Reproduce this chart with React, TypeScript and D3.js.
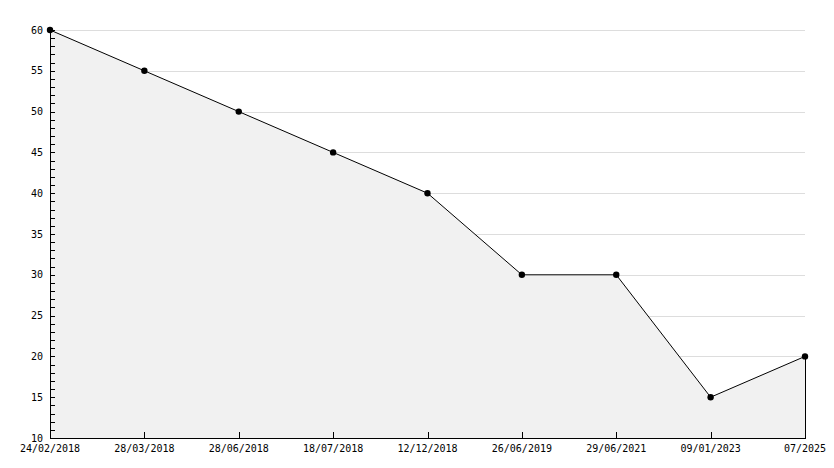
import React from "react";
import * as d3 from "d3";

const dates = ["24/02/2018","28/03/2018","28/06/2018","18/07/2018","12/12/2018","26/06/2019","29/06/2021","09/01/2023","07/2025"];
const values = [60, 55, 50, 45, 40, 30, 30, 15, 20];
const yMajorTicks = [10, 15, 20, 25, 30, 35, 40, 45, 50, 55, 60];

const W = 834, H = 468;
const L = 50, R = 805, T = 30, B = 438;

export default function App() {
  const x = d3.scalePoint<string>().domain(dates).range([L, R]);
  const y = d3.scaleLinear().domain([10, 60]).range([B, T]);
  const pts = dates.map((d, i) => [x(d) as number, y(values[i])] as [number, number]);
  const line = d3.line()(pts) as string;
  const area = d3.area<[number, number]>().x(p => p[0]).y0(B).y1(p => p[1])(pts) as string;
  const minor = d3.range(10, 61, 1);
  const font = "'DejaVu Sans Mono', monospace";
  return (
    <svg width={W} height={H} style={{ position: "absolute", left: 0, top: 0, background: "#fff" }} shapeRendering="crispEdges">
      {yMajorTicks.filter(v => v > 10).map(v => (
        <line key={"g" + v} x1={L} x2={R} y1={Math.round(y(v)) + 0.5} y2={Math.round(y(v)) + 0.5} stroke="#dddddd" />
      ))}
      <path d={area} fill="#f1f1f1" stroke="none" />
      <line x1={R + 0.5} x2={R + 0.5} y1={y(values[values.length - 1])} y2={B} stroke="#000" />
      <path d={line} fill="none" stroke="#000" strokeWidth={1} shapeRendering="auto" />
      {minor.map(v => (
        <line key={"m" + v} x1={L} x2={L + 5} y1={Math.round(y(v)) + 0.5} y2={Math.round(y(v)) + 0.5} stroke="#000" />
      ))}
      {dates.map(d => (
        <line key={"xt" + d} x1={Math.round(x(d) as number) + 0.5} x2={Math.round(x(d) as number) + 0.5} y1={B} y2={B - 6} stroke="#000" />
      ))}
      <line x1={L + 0.5} x2={L + 0.5} y1={T} y2={B} stroke="#000" />
      <line x1={L} x2={R + 1} y1={B + 0.5} y2={B + 0.5} stroke="#000" />
      {pts.map((p, i) => (
        <circle key={"p" + i} cx={p[0]} cy={p[1]} r={3.2} fill="#000" shapeRendering="auto" />
      ))}
      {yMajorTicks.map(v => (
        <text key={"yl" + v} x={43} y={y(v) + 3.5} textAnchor="end" fontFamily={font} fontSize={10} fill="#000">{v}</text>
      ))}
      {dates.map(d => (
        <text key={"xl" + d} x={x(d) as number} y={B + 14} textAnchor="middle" fontFamily={font} fontSize={10} fill="#000">{d}</text>
      ))}
    </svg>
  );
}
